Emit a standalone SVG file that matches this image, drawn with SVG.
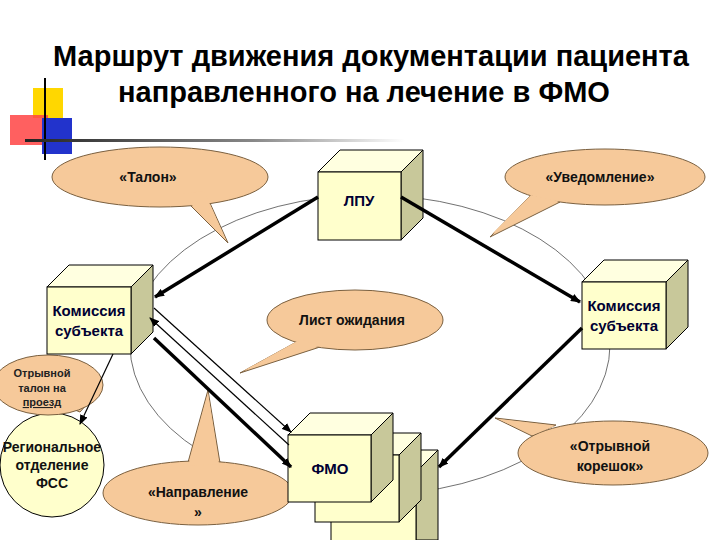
<svg xmlns="http://www.w3.org/2000/svg" width="720" height="540" viewBox="0 0 720 540">
<defs>
<linearGradient id="hl" x1="0" x2="1"><stop offset="0" stop-color="#222"/><stop offset="0.6" stop-color="#888"/><stop offset="1" stop-color="#fff"/></linearGradient>
<marker id="ah" markerWidth="10" markerHeight="8" refX="9" refY="4" orient="auto" markerUnits="userSpaceOnUse"><path d="M0,0 L10,4 L0,8 z" fill="#000"/></marker>
<style>
.front{fill:#FFFFCC;stroke:#000;stroke-width:1}
.top{fill:#FFFFE0;stroke:#000;stroke-width:1}
.side{fill:#C8C89A;stroke:#000;stroke-width:1}
.call{fill:#F6C99A;stroke:#7a6040;stroke-width:1}
.tf{fill:#F6C99A;stroke:none}
.nt{font-family:"Liberation Sans",Arial,sans-serif;font-weight:bold;font-size:15px;fill:#000033;text-anchor:middle}
.ct{font-family:"Liberation Sans",Arial,sans-serif;font-weight:bold;font-size:14px;fill:#111;text-anchor:middle}
.thin{stroke:#000;stroke-width:1.2;fill:none;marker-end:url(#ah)}
.thick{stroke:#000;stroke-width:3.5;fill:none;marker-end:url(#ah)}
</style>
</defs>
<rect width="720" height="540" fill="#fff"/>
<g id="decor">
<rect x="33" y="88" width="30" height="30" fill="#FFD700"/>
<rect x="10" y="115" width="38" height="30" fill="#FF4444" opacity="0.85"/>
<rect x="42" y="118" width="30" height="36" fill="#2233CC"/>
<line x1="45" y1="78" x2="45" y2="160" stroke="#000" stroke-width="2"/>
<rect x="25" y="139" width="380" height="3" fill="url(#hl)"/>
</g>
<g id="title" font-family="'Liberation Sans',Arial,sans-serif" font-weight="bold" font-size="29" text-anchor="middle" fill="#000">
<text x="371" y="66">Маршрут движения документации пациента</text>
<text x="364" y="102">направленного на лечение в ФМО</text>
</g>
<ellipse cx="370" cy="345" rx="240" ry="150" fill="none" stroke="#333" stroke-width="0.7"/>
<g id="callouts">
<g id="c-talon"><polygon class="call" points="180,195 228,243 205,192"/><ellipse class="call" cx="160" cy="177" rx="108" ry="30"/><polygon class="tf" points="181,194 226,240 204,191"/><text class="ct" x="148" y="182">«Талон»</text></g>
<g id="c-uved"><polygon class="call" points="530,196 490,237 560,202"/><ellipse class="call" cx="605" cy="177" rx="100" ry="28"/><polygon class="tf" points="531,195 492,234 559,201"/><text class="ct" x="600" y="182">«Уведомление»</text></g>
<g id="c-list"><polygon class="call" points="300,340 240,373 320,347"/><ellipse class="call" cx="355" cy="320" rx="88" ry="30"/><polygon class="tf" points="301,339 243,371 319,346"/><text class="ct" x="352" y="325">Лист ожидания</text></g>
<g id="c-napr"><polygon class="call" points="187,466 208,390 220,463"/><ellipse class="call" cx="198" cy="493" rx="95" ry="32"/><polygon class="tf" points="188,466 208,393 219,464"/><text class="ct" x="198" y="497">«Направление</text><text class="ct" x="198" y="517">»</text></g>
<g id="c-koresh"><polygon class="call" points="532,436 495,418 556,425"/><ellipse class="call" cx="613" cy="453" rx="95" ry="32"/><polygon class="tf" points="533,435 498,419 555,426"/><text class="ct" x="610" y="451">«Отрывной</text><text class="ct" x="610" y="471">корешок»</text></g>
</g>
<g id="fss"><circle cx="52" cy="465" r="52" fill="#FFFFCC" stroke="#000"/><text class="ct" x="52" y="452" font-size="13">Региональное</text><text class="ct" x="52" y="470" font-size="13">отделение</text><text class="ct" x="52" y="488" font-size="13">ФСС</text></g>
<g id="c-otr"><polygon class="call" points="70,408 80,412 88,403"/><ellipse class="call" cx="48" cy="385" rx="55" ry="30"/><g font-family="'Liberation Sans',Arial,sans-serif" font-weight="bold" font-size="11" fill="#222" text-anchor="middle"><text x="42" y="377">Отрывной</text><text x="42" y="392">талон на</text><text x="42" y="406" text-decoration="underline">проезд</text></g></g>
<g id="lpu"><polygon class="top" points="318,172 340,150 423,150 401,172"/><polygon class="side" points="401,172 423,150 423,218 401,240"/><rect class="front" x="318" y="172" width="83" height="68"/><text class="nt" x="359" y="206">ЛПУ</text></g>
<g id="kom-left"><polygon class="top" points="47,287 69,265 153,265 131,287"/><polygon class="side" points="131,287 153,265 153,332 131,354"/><rect class="front" x="47" y="287" width="84" height="67"/><text class="nt" x="89" y="316">Комиссия</text><text class="nt" x="89" y="336">субъекта</text></g>
<g id="kom-right"><polygon class="top" points="582,282 604,260 688,260 666,282"/><polygon class="side" points="666,282 688,260 688,327 666,349"/><rect class="front" x="582" y="282" width="84" height="67"/><text class="nt" x="624" y="311">Комиссия</text><text class="nt" x="624" y="331">субъекта</text></g>
<g id="fmo">
<polygon class="top" points="331,472 353,450 438,450 416,472"/><polygon class="side" points="416,472 438,450 438,540 416,540"/><rect class="front" x="331" y="472" width="85" height="70"/>
<polygon class="top" points="315,455 337,433 421,433 399,455"/><polygon class="side" points="399,455 421,433 421,500 399,522"/><rect class="front" x="315" y="455" width="84" height="67"/>
<polygon class="top" points="288,435 310,413 393,413 371,435"/><polygon class="side" points="371,435 393,413 393,480 371,502"/><rect class="front" x="288" y="435" width="83" height="67"/>
<text class="nt" x="330" y="474">ФМО</text></g>
<g id="connectors">
<line class="thick" x1="318" y1="197" x2="155" y2="297"/>
<line class="thick" x1="401" y1="197" x2="580" y2="302"/>
<line class="thick" x1="582" y1="328" x2="439" y2="467"/>
<line class="thin" x1="154" y1="308" x2="291" y2="432"/>
<line class="thin" x1="289" y1="445" x2="150" y2="318"/>
<line class="thick" x1="154" y1="338" x2="291" y2="467"/>
<line class="thin" x1="113" y1="354" x2="80" y2="424"/>
</g>
</svg>
